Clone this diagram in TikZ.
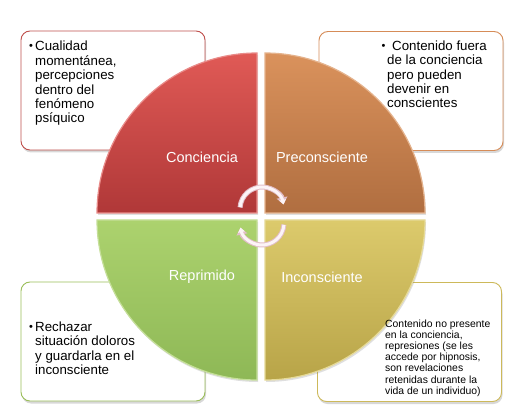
\documentclass[tikz,border=0pt]{standalone}
\usepackage{fontspec}
\setmainfont{Liberation Sans}
\usetikzlibrary{arrows.meta,shadows}
\definecolor{redT}{RGB}{224,90,86}
\definecolor{redB}{RGB}{176,56,56}
\definecolor{orT}{RGB}{218,146,92}
\definecolor{orB}{RGB}{176,110,64}
\definecolor{grT}{RGB}{172,210,110}
\definecolor{grB}{RGB}{142,184,86}
\definecolor{yeT}{RGB}{220,202,108}
\definecolor{yeB}{RGB}{184,164,72}
\definecolor{redL}{RGB}{192,80,77}
\definecolor{orL}{RGB}{214,140,88}
\definecolor{grL}{RGB}{155,190,90}
\definecolor{yeL}{RGB}{205,185,90}
\definecolor{arrowPink}{RGB}{226,190,200}
\definecolor{arrowIn}{RGB}{252,244,247}
\tikzset{
  infobox/.style={rounded corners=9pt, fill=white, line width=0.9pt, inner sep=0pt,
    minimum width=184pt, minimum height=119pt,
    drop shadow={shadow xshift=1pt, shadow yshift=-2.5pt, opacity=0.3}},
  quad/.style={line width=1.2pt, drop shadow={shadow xshift=1pt, shadow yshift=-2pt, opacity=0.25}},
  qlabel/.style={text=white, inner sep=0pt, font=\fontsize{14.5}{17}\selectfont},
  boxtext/.style={anchor=north west, inner sep=0pt, align=left, font=\fontsize{13.3}{14.4}\selectfont},
  smalltext/.style={anchor=north west, inner sep=0pt, align=left, font=\fontsize{10.4}{11.1}\selectfont},
  bulletmark/.style={anchor=base west, inner sep=0pt, font=\fontsize{11}{12}\selectfont},
  arrowout/.style={draw=arrowPink, line width=5pt, -{Triangle[width=10.5pt,length=7pt]}},
  arrowin/.style={draw=arrowIn, line width=3pt, -{Triangle[width=6.5pt,length=4.6pt]}}
}
\begin{document}
\begin{tikzpicture}[x=1pt,y=1pt]
\useasboundingbox (0,0) rectangle (528,413);
\fill[white] (0,0) rectangle (528,413);

% info boxes
\node[infobox, draw=redL] (boxTL) at (113,322.5) {};
\node[infobox, draw=orL] (boxTR) at (411,322) {};
\node[infobox, draw=grL] (boxBL) at (113,71.5) {};
\node[infobox, draw=yeL] (boxBR) at (409.5,71) {};

% quadrants
\path[quad, draw=redT!70!white, top color=redT, bottom color=redB]
  (257,200) -- ++(-160,0) arc[start angle=180,end angle=90,radius=160] -- cycle;
\path[quad, draw=orT!70!white, top color=orT, bottom color=orB]
  (265,200) -- ++(0,160) arc[start angle=90,end angle=0,radius=160] -- cycle;
\path[quad, draw=grT!70!white, top color=grT, bottom color=grB]
  (257,193) -- ++(-160,0) arc[start angle=180,end angle=270,radius=160] -- cycle;
\path[quad, draw=yeT!70!white, top color=yeT, bottom color=yeB]
  (265,193) -- ++(160,0) arc[start angle=0,end angle=-90,radius=160] -- cycle;

% quadrant labels
\node[qlabel] (lCon) at (202,256) {Conciencia};
\node[qlabel] (lPre) at (322,256) {Preconsciente};
\node[qlabel] (lRep) at (202,136) {Reprimido};
\node[qlabel] (lInc) at (322,136) {Inconsciente};

% circular arrows
\coordinate (acTop) at (262,204);
\coordinate (acBot) at (262,190);
\draw[arrowout] ([shift={(176:22)}]acTop) arc[start angle=176,end angle=12,radius=22];
\draw[arrowin] ([shift={(175:22)}]acTop) arc[start angle=175,end angle=12,radius=22];
\draw[arrowout] ([shift={(-4:22)}]acBot) arc[start angle=-4,end angle=-168,radius=22];
\draw[arrowin] ([shift={(-5:22)}]acBot) arc[start angle=-5,end angle=-168,radius=22];

% texts
\node[bulletmark] (bTL) at (29,363) {•};
\node[boxtext] (tTL) at (35,372) {Cualidad\\momentánea,\\percepciones\\dentro del\\fenómeno\\psíquico};

\node[bulletmark] (bTR) at (381.5,363) {•};
\node[boxtext] (tTR) at (387,372.6) {\hspace*{5pt}Contenido fuera\\de la conciencia\\pero pueden\\devenir en\\conscientes};

\node[bulletmark] (bBL) at (29,82) {•};
\node[boxtext] (tBL) at (35,91.6) {Rechazar\\situación doloros\\y guardarla en el\\inconsciente};

\node[smalltext] (tBR) at (385,93.2) {Contenido no presente\\en la conciencia,\\represiones (se les\\accede por hipnosis,\\son revelaciones\\retenidas durante la\\vida de un individuo)};
\end{tikzpicture}
\end{document}
